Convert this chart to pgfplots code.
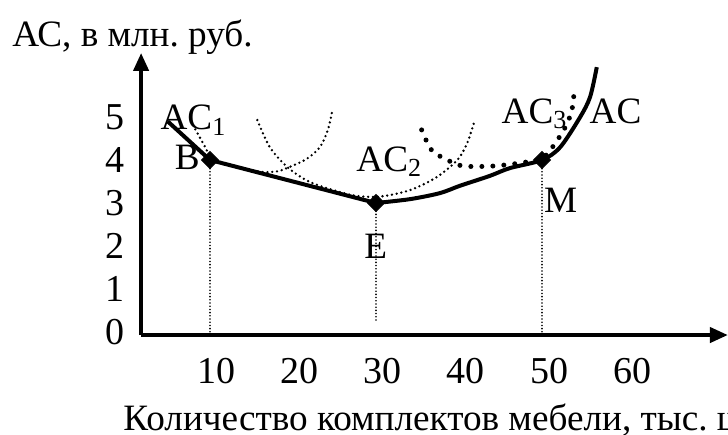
\documentclass[border=0pt]{standalone}
\usepackage{fontspec}
\setmainfont{Liberation Serif}
\usepackage{pgfplots}
\pgfplotsset{compat=1.18}
\usetikzlibrary{arrows.meta}
\frenchspacing
\begin{document}
\begin{tikzpicture}[font=\fontsize{18.6}{22}\selectfont]
\begin{axis}[
  x=4.15pt, y=21.5pt,
  xmin=1.7, xmax=72.4, ymin=-0.07, ymax=6.49,
  axis lines=left,
  axis line style={line width=2pt, -{Triangle[length=9pt,width=7.5pt]}},
  enlargelimits=false, clip=false,
  xtick={10,20,...,60}, ytick={0,...,5},
  major tick length=0pt,
  /pgf/number format/assume math mode=true,
  tick label style={font=\fontsize{19}{23}\selectfont},
  xticklabel style={yshift=-8pt, xshift=3.5pt},
  yticklabel style={xshift=-5pt},
]
% dotted drop lines
\addplot[black, line width=0.9pt, dash pattern=on 0pt off 1.6pt, line cap=round] coordinates {(10,-0.07) (10,4)};
\addplot[black, line width=0.9pt, dash pattern=on 0pt off 1.6pt, line cap=round] coordinates {(30,0.28) (30,3)};
\addplot[black, line width=0.9pt, dash pattern=on 0pt off 1.6pt, line cap=round] coordinates {(50,-0.07) (50,4)};
% AC1 (small dots)
\addplot[black, smooth, line width=1.3pt, dash pattern=on 0pt off 2.4pt, line cap=round] coordinates {
 (7.95,4.81) (9.2,4.38) (10.3,4.02) (12,3.92) (14,3.81) (16.4,3.72) (18.2,3.74) (19.6,3.84) (21.6,4.02) (23.25,4.30) (24.2,4.7) (24.7,5.12)};
% AC2 (small dots)
\addplot[black, smooth, line width=1.3pt, dash pattern=on 0pt off 2.4pt, line cap=round] coordinates {
 (15.7,4.93) (17.2,4.30) (19.3,3.84) (21.7,3.52) (24.5,3.32) (27.5,3.17) (30.5,3.15) (34.1,3.3) (37.3,3.6) (39.8,4.0) (41,4.4) (41.9,4.93)};
% AC3 (big dots)
\addplot[black, smooth, line width=2.5pt, dash pattern=on 0pt off 5.5pt, line cap=round] coordinates {
 (35.5,4.70) (36.7,4.23) (38.6,4.0) (40.5,3.86) (44.1,3.86) (47.3,3.93) (50.1,4.05) (51.8,4.45) (52.9,4.8) (53.6,5.16) (53.9,5.63)};
% long-run AC (solid)
\addplot[black, line width=2pt] coordinates {(4.9,4.9) (10,4) (30,3)};
\addplot[black, smooth, line width=2pt] coordinates {
 (30,3.0) (34.1,3.09) (37.7,3.23) (40.1,3.40) (43.7,3.63) (46.1,3.81) (50,4.0) (52.2,4.30) (54.6,5.0) (55.8,5.47) (56.6,6.16)};
% points
\addplot[only marks, mark=square*, mark size=3pt, mark options={rotate=45, black}] coordinates {(10,4) (30,3) (50,4)};
% labels
\node[anchor=base west, inner sep=0] at (axis cs:4.0,4.70) {AC\textsubscript{1}};
\node[anchor=base east, inner sep=0] at (axis cs:8.8,3.77) {B};
\node[anchor=base west, inner sep=0] at (axis cs:27.6,3.74) {AC\textsubscript{2}};
\node[anchor=base west, inner sep=0] at (axis cs:45.1,4.86) {AC\textsubscript{3}};
\node[anchor=base west, inner sep=0] at (axis cs:55.7,4.86) {AC};
\node[anchor=base west, inner sep=0] at (axis cs:50.2,2.77) {M};
\node[anchor=base west, inner sep=0] at (axis cs:28.55,1.70) {E};
\node[anchor=base west, inner sep=0] at (axis cs:-13.86,6.63) {АС, в млн. руб.};
\node[anchor=base west, inner sep=0] at (axis cs:-0.48,-2.28) {Количество комплектов мебели, тыс. шт.};
\coordinate (bl) at (axis cs:-15.30,-2.372);
\coordinate (tr) at (axis cs:72.41,7.721);
\end{axis}
\pgfresetboundingbox
\useasboundingbox (bl) rectangle (tr);
\end{tikzpicture}
\end{document}
